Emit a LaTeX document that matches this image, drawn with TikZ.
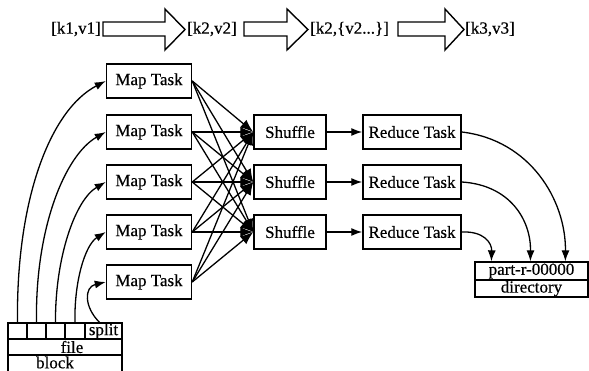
\documentclass[tikz,border=0pt]{standalone}
\usepackage{fontspec}
\setmainfont{Liberation Serif}[FakeBold=0.4]
\usetikzlibrary{arrows.meta}
\begin{document}
\begin{tikzpicture}[x=1pt,y=-1pt,
  font=\fontsize{17}{20}\selectfont,
  box/.style={draw, line width=1.5pt, inner sep=0pt, minimum height=34pt},
  mapbox/.style={box, minimum width=85pt},
  shufbox/.style={box, minimum width=72pt},
  redbox/.style={box, minimum width=98pt},
  cellbox/.style={draw, line width=1.3pt, inner sep=0pt, minimum height=16pt},
  link/.style={line width=1.3pt, -{Latex[length=13pt,width=10pt]}},
  flow/.style={line width=1.3pt, -{Latex[length=11pt,width=8pt]}},
  bigarrow/.style={draw, line width=1.4pt, line join=miter},
  lbl/.style={inner sep=0pt}
]
\useasboundingbox (0,0) rectangle (589,371);

% top row
\node[lbl, anchor=east] (kv1) at (101,29) {[k1,v1]};
\node[lbl, anchor=west] (kv2) at (187,29) {[k2,v2]};
\node[lbl, anchor=west] (kv3) at (310,29) {[k2,\{v2...\}]};
\node[lbl, anchor=west] (kv4) at (465,29) {[k3,v3]};
\draw[bigarrow] (103,22) -- (165,22) -- (165,9) -- (185,29.5) -- (165,50) -- (165,36) -- (103,36) -- cycle;
\draw[bigarrow] (244,22) -- (287,22) -- (287,9) -- (308,29.5) -- (287,50) -- (287,36) -- (244,36) -- cycle;
\draw[bigarrow] (398,22) -- (445,22) -- (445,9) -- (464,29.5) -- (445,50) -- (445,36) -- (398,36) -- cycle;

% tasks
\foreach \i/\y in {1/81,2/132,3/182,4/232,5/282}
  \node[mapbox] (m\i) at (149,\y) {Map Task};
\foreach \i/\y in {1/132,2/182,3/232} {
  \node[shufbox] (s\i) at (290,\y) {Shuffle};
  \node[redbox] (r\i) at (412,\y) {Reduce Task};
}
\foreach \i in {1,...,5}
  \foreach \j in {1,2,3}
    \draw[link] (m\i.east) -- (s\j.west);
\foreach \i in {1,2,3}
  \draw[flow] (s\i.east) -- (r\i.west);

% block structure
\node[cellbox, minimum width=19pt] (c1) at (17.5,331) {};
\node[cellbox, minimum width=19pt] (c2) at (36.5,331) {};
\node[cellbox, minimum width=19pt] (c3) at (55.5,331) {};
\node[cellbox, minimum width=20pt] (c4) at (75,331) {};
\node[cellbox, minimum width=37pt] (sp) at (103.5,331) {split};
\node[cellbox, minimum width=114pt] (filerow) at (65,347) {};
\node[lbl] (filelbl) at (72,347) {file};
\node[cellbox, minimum width=114pt, minimum height=22pt, anchor=north] (blockrow) at (65,355) {};
\node[lbl] (blocklbl) at (55,362.5) {block};

% input curves
\draw[flow] (c1.north) .. controls (16,200) and (50,110) .. (m1.west);
\draw[flow] (c2.north) .. controls (35,228) and (65,155) .. (m2.west);
\draw[flow] (c3.north) .. controls (55,258) and (75,200) .. (m3.west);
\draw[flow] (c4.north) .. controls (74,282) and (85,245) .. (m4.west);
\draw[flow] ([xshift=-4pt]sp.north) .. controls (84,307) and (84,287) .. (m5.west);

% output
\node[cellbox, minimum width=113pt, minimum height=18pt] (out1) at (531.5,271) {part-r-00000};
\node[cellbox, minimum width=113pt, minimum height=17pt] (out2) at (531.5,288.5) {directory};
\draw[flow] (r1.east) .. controls (530,140) and (566,200) .. ([xshift=91pt]out1.north west);
\draw[flow] (r2.east) .. controls (510,185) and (531,220) .. ([xshift=56pt]out1.north west);
\draw[flow] (r3.east) .. controls (484,231) and (492,243) .. ([xshift=17pt]out1.north west);
\end{tikzpicture}
\end{document}
